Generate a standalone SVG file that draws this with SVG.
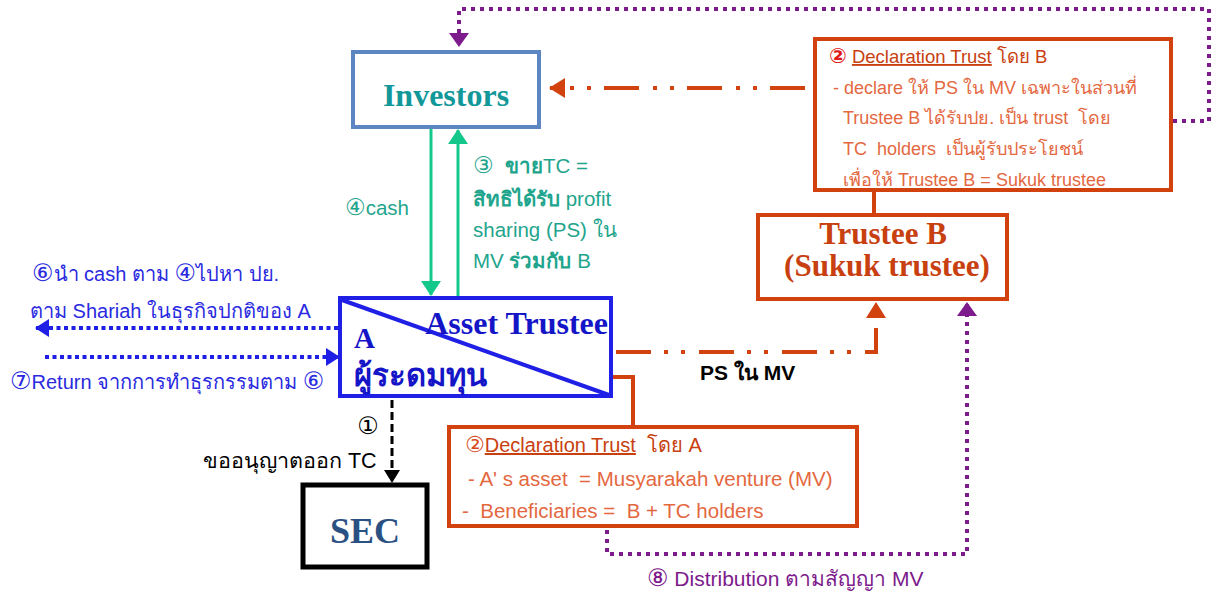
<svg xmlns="http://www.w3.org/2000/svg" width="1211" height="596" viewBox="0 0 1211 596">
<style>
  text { white-space: pre; }
  .sans { font-family: "Liberation Sans", "Noto Sans", "DejaVu Sans", sans-serif; }
  .serifb { font-family: "Liberation Serif", "DejaVu Serif", serif; font-weight: bold; }
  .orangeBox { fill: #ffffff; stroke: #d1420f; stroke-width: 4; }
  .decHead { fill: #c8400f; }
  .decBody { fill: #e4683f; }
  .green { fill: #1fa58d; font-size: 20.5px; }
  .blue { fill: #2a2ae0; font-size: 20px; }
  .purpleDot { fill: none; stroke: #7d1a8c; stroke-width: 4; stroke-dasharray: 4 5; }
  .blueDot { fill: none; stroke: #1f1fe6; stroke-width: 4; stroke-dasharray: 4 3.5; }
  .orangeDD { fill: none; stroke: #d1420f; stroke-width: 4; stroke-dasharray: 35 13 4 13 4 14; }
  .orangeLine { fill: none; stroke: #d1420f; stroke-width: 4; }
  .greenLine { fill: none; stroke: #14c88c; stroke-width: 3; }
</style>
<defs>
  <marker id="arrOrange" markerUnits="userSpaceOnUse" markerWidth="16" markerHeight="20" viewBox="0 0 16 20" refX="15" refY="10" orient="auto">
    <path d="M0,0 L16,10 L0,20 z" fill="#d1420f"/>
  </marker>
  <marker id="arrPurple" markerUnits="userSpaceOnUse" markerWidth="14" markerHeight="20" viewBox="0 0 14 20" refX="13" refY="10" orient="auto">
    <path d="M0,0 L14,10 L0,20 z" fill="#7d1a8c"/>
  </marker>
  <marker id="arrBlue" markerUnits="userSpaceOnUse" markerWidth="14" markerHeight="18" viewBox="0 0 14 18" refX="13" refY="9" orient="auto">
    <path d="M0,0 L14,9 L0,18 z" fill="#1f1fe6"/>
  </marker>
  <marker id="arrGreen" markerUnits="userSpaceOnUse" markerWidth="15" markerHeight="20" viewBox="0 0 15 20" refX="14" refY="10" orient="auto">
    <path d="M0,0 L15,10 L0,20 z" fill="#14c88c"/>
  </marker>
  <marker id="arrBlack" markerUnits="userSpaceOnUse" markerWidth="13" markerHeight="16" viewBox="0 0 13 16" refX="12" refY="8" orient="auto">
    <path d="M0,0 L13,8 L0,16 z" fill="#000000"/>
  </marker>
</defs>

<g id="connectors">
  <path class="purpleDot" d="M1173,121 L1209,121 L1209,9 L459,9 L459,46" marker-end="url(#arrPurple)"/>
  <path class="orangeDD" d="M805,88 L550,88" marker-end="url(#arrOrange)"/>
  <path class="orangeLine" d="M874,191 L874,214"/>
  <path class="greenLine" d="M431,129 L431,295" marker-end="url(#arrGreen)"/>
  <path class="greenLine" d="M458,296 L458,130" marker-end="url(#arrGreen)"/>
  <path class="blueDot" d="M338,328 L36,328" marker-end="url(#arrBlue)"/>
  <path class="blueDot" d="M45,357 L339,357" marker-end="url(#arrBlue)"/>
  <path d="M392,400 L392,482" fill="none" stroke="#000" stroke-width="3" stroke-dasharray="8 4" marker-end="url(#arrBlack)"/>
  <path class="orangeDD" d="M616,352 L876,352 L876,303" marker-end="url(#arrOrange)"/>
  <path class="orangeLine" d="M612,377 L633,377 L633,427"/>
  <path class="purpleDot" d="M607,530 L607,554 L967,554 L967,303" marker-end="url(#arrPurple)"/>
</g>

<g id="investors">
  <rect x="353" y="52" width="186" height="75" fill="#ffffff" stroke="#5b86c2" stroke-width="4"/>
  <text x="446" y="106" text-anchor="middle" class="serifb" font-size="32" fill="#13989a">Investors</text>
</g>

<g id="decl-b">
  <rect class="orangeBox" x="815" y="39" width="356" height="151"/>
  <text x="829" y="63" class="sans decHead" font-size="18.5"><tspan fill="#e01818" font-weight="bold" font-size="21">②</tspan> <tspan text-decoration="underline">Declaration Trust</tspan> โดย B</text>
  <text x="833" y="94" class="sans decBody" font-size="18">- declare ให้ PS ใน MV เฉพาะในส่วนที่</text>
  <text x="843" y="124" class="sans decBody" font-size="18">Trustee B ได้รับปย. เป็น trust  โดย</text>
  <text x="843" y="155" class="sans decBody" font-size="18">TC  holders  เป็นผู้รับประโยชน์</text>
  <text x="843" y="186" class="sans decBody" font-size="18">เพื่อให้ Trustee B = Sukuk trustee</text>
</g>

<g id="trustee-b">
  <rect x="758" y="215" width="249" height="84" fill="#ffffff" stroke="#d1420f" stroke-width="4"/>
  <text x="883" y="244" text-anchor="middle" class="serifb" font-size="31" fill="#c8400f">Trustee B</text>
  <text x="887" y="276" text-anchor="middle" class="serifb" font-size="31" fill="#c8400f">(Sukuk trustee)</text>
</g>

<g id="green-labels">
  <text x="345" y="215" class="sans green"><tspan font-size="23">④</tspan>cash</text>
  <text x="473" y="173" class="sans green"><tspan font-size="23">③</tspan>  <tspan font-weight="bold">ขาย</tspan>TC =</text>
  <text x="473" y="206" class="sans green"><tspan font-weight="bold">สิทธิได้รับ</tspan> profit</text>
  <text x="473" y="237" class="sans green">sharing (PS) ใน</text>
  <text x="473" y="268" class="sans green">MV <tspan font-weight="bold">ร่วมกับ</tspan> B</text>
</g>

<g id="asset-trustee">
  <rect x="340" y="298" width="271" height="98" fill="#ffffff" stroke="#1f1fe6" stroke-width="4"/>
  <path d="M342,300 L609,395" stroke="#1f1fe6" stroke-width="4"/>
  <text x="608" y="334" text-anchor="end" class="serifb" font-size="32" fill="#1515c8">Asset Trustee</text>
  <text x="354" y="348" class="serifb" font-size="29" fill="#1515c8">A</text>
  <text x="354" y="386" class="serifb" font-size="31" fill="#1515c8">ผู้ระดมทุน</text>
</g>

<g id="left-labels">
  <text x="32" y="281" class="sans blue" font-size="20.5"><tspan font-size="24">⑥</tspan>นำ cash ตาม <tspan font-size="24">④</tspan>ไปหา ปย.</text>
  <text x="30" y="318" class="sans blue">ตาม Shariah ในธุรกิจปกติของ A</text>
  <text x="10" y="389" class="sans blue"><tspan font-size="24">⑦</tspan>Return จากการทำธุรกรรมตาม <tspan font-size="24">⑥</tspan></text>
</g>

<g id="sec-label">
  <text x="368" y="434" text-anchor="middle" class="sans" font-size="24" fill="#000">①</text>
  <text x="203" y="468" class="sans" font-size="21.5" fill="#000">ขออนุญาตออก TC</text>
</g>

<g id="sec">
  <rect x="303" y="485" width="124" height="82" fill="#ffffff" stroke="#000" stroke-width="5"/>
  <text x="365" y="543" text-anchor="middle" class="serifb" font-size="36" fill="#2b5183">SEC</text>
</g>

<g id="ps-label">
  <text x="700" y="380" class="sans" font-size="21" font-weight="bold" fill="#000">PS ใน MV</text>
</g>

<g id="decl-a">
  <rect class="orangeBox" x="449" y="427" width="408" height="99"/>
  <text x="465" y="452" class="sans decHead" font-size="20"><tspan fill="#d84820" font-size="22">②</tspan><tspan text-decoration="underline">Declaration Trust</tspan>  โดย A</text>
  <text x="468" y="486" class="sans decBody" font-size="20.5">- A' s asset  = Musyarakah venture (MV)</text>
  <text x="462" y="518" class="sans decBody" font-size="20.5">-  Beneficiaries =  B + TC holders</text>
</g>

<g id="distribution">
  <text x="647" y="586" class="sans" font-size="21" fill="#7d1a8c"><tspan font-size="24">⑧</tspan> Distribution ตามสัญญา MV</text>
</g>
</svg>
